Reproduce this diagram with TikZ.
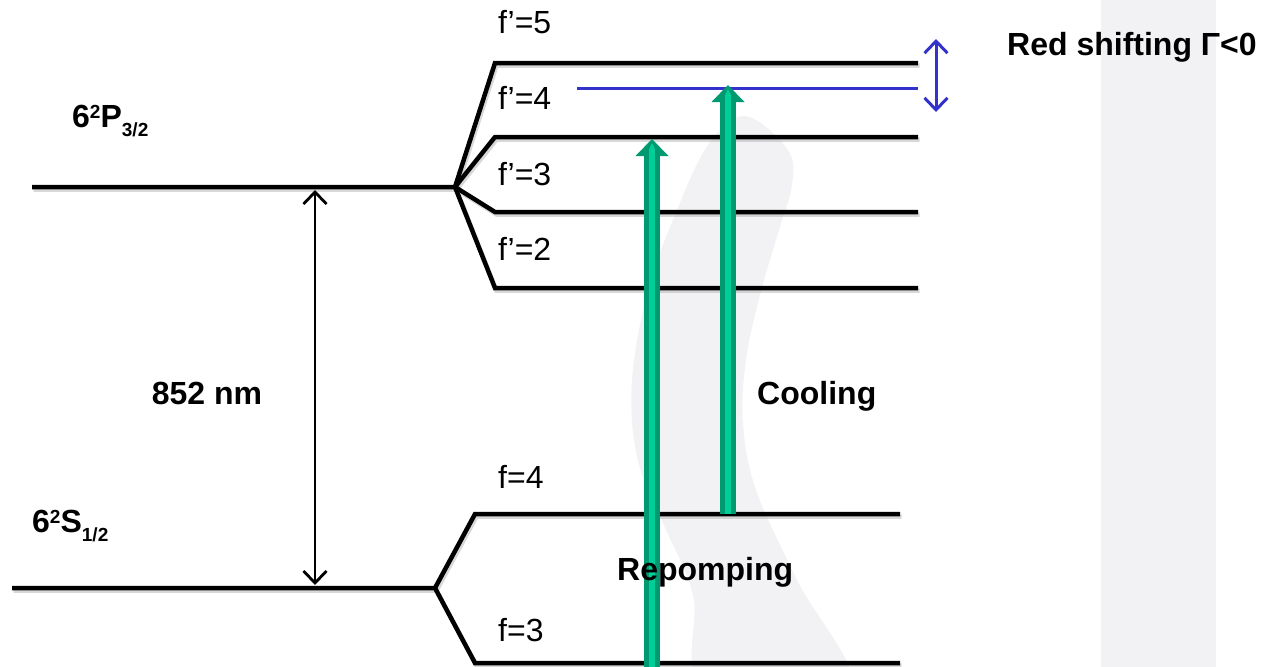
\documentclass[tikz,border=0pt]{standalone}
\usepackage{fontspec}
\setmainfont{Liberation Sans}
\usetikzlibrary{arrows.meta,calc}
\definecolor{gdark}{RGB}{0,153,112}
\definecolor{glight}{RGB}{0,206,152}
\definecolor{bluel}{RGB}{51,51,204}
\definecolor{bgray}{RGB}{242,242,245}
\newcommand\mysup[1]{\raisebox{9pt}{\fontsize{19}{19}\selectfont #1}}
\newcommand\mysub[1]{\raisebox{-9pt}{\fontsize{19}{19}\selectfont #1}}
\newcommand\greenarrow[2]{%
  \fill[gdark] ($(#1)+(-8,0)$) rectangle ($(#2)+(8,16)$);
  \fill[gdark] ($(#2)+(-16.5,17)$) -- (#2) -- ($(#2)+(16.5,17)$) -- cycle;
  \fill[glight] ($(#1)+(-2.8,0)$) rectangle ($(#2)+(2.8,10)$);
  \fill[glight] ($(#2)+(-2.8,10)$) -- ($(#2)+(0,4)$) -- ($(#2)+(2.8,10)$) -- cycle;
}
\begin{document}
\begin{tikzpicture}[x=1pt,y=-1pt,
  lvl/.style={line width=4.5pt, line join=miter},
  shade/.style={line width=4.5pt, draw=black!30, opacity=0.5, transform canvas={shift={(1.5pt,-2.5pt)}}},
  lab/.style={font=\fontsize{32}{36}\selectfont, inner sep=0pt, anchor=base west},
  blab/.style={font=\fontsize{32}{36}\selectfont\bfseries, inner sep=0pt, anchor=base west},
  barb/.tip={Straight Barb[length=12pt,width=23pt]}
]
\useasboundingbox (0,0) rectangle (1262,667);
% background
\fill[bgray] (1101,0) rectangle (1216,667);
\begin{scope}
\clip (0,0) rectangle (1262,667);
\fill[bgray] plot[smooth cycle, tension=0.6] coordinates {(745,116) (788,150) (792,185) (779,230) (760,295) (746,360) (743,423) (756,490) (797,580) (850,690) (705,690) (693,595) (663,523) (637,457) (632,380) (648,290) (675,215) (708,145)};
\end{scope}
% coordinates
\coordinate (Pa) at (32,187); \coordinate (Pj) at (455,187);
\coordinate (L5a) at (495,63);  \coordinate (L5b) at (918,63);
\coordinate (L4a) at (495,137); \coordinate (L4b) at (918,137);
\coordinate (L3a) at (495,212); \coordinate (L3b) at (918,212);
\coordinate (L2a) at (495,288); \coordinate (L2b) at (918,288);
\coordinate (Sa) at (12,588); \coordinate (Sj) at (435,588);
\coordinate (F4a) at (475,514); \coordinate (F4b) at (900,514);
\coordinate (F3a) at (475,663); \coordinate (F3b) at (900,663);
\coordinate (Ba) at (577,88); \coordinate (Bb) at (918,88);
% shadows
\draw[shade] (Pa) -- (Pj) -- (L5a) -- (L5b);
\draw[shade] (Pj) -- (L4a) -- (L4b);
\draw[shade] (Pj) -- (L3a) -- (L3b);
\draw[shade] (Pj) -- (L2a) -- (L2b);
\draw[shade] (Sa) -- (Sj) -- (F4a) -- (F4b);
\draw[shade] (Sj) -- (F3a) -- (F3b);
% levels
\draw[lvl] (Pa) -- (Pj) -- (L5a) -- (L5b);
\draw[lvl] (Pj) -- (L4a) -- (L4b);
\draw[lvl] (Pj) -- (L3a) -- (L3b);
\draw[lvl] (Pj) -- (L2a) -- (L2b);
\draw[lvl] (Sa) -- (Sj) -- (F4a) -- (F4b);
\draw[lvl] (Sj) -- (F3a) -- (F3b);
% blue detuned level
\draw[bluel, line width=3pt] (Ba) -- (Bb);
\coordinate (Rt) at (936,39); \coordinate (Rb) at (936,112);
\draw[bluel, line width=3pt, barb-barb] (Rt) -- (Rb);
% 852 nm arrow
\coordinate (At) at (315,190); \coordinate (Ab) at (315,585);
\draw[line width=2.8pt, barb-barb] (At) -- (Ab);
% labels
\node[lab] (t5) at (498,33) {f’=5};
\node[lab] (t4) at (498,109) {f’=4};
\node[lab] (t3) at (498,185) {f’=3};
\node[lab] (t2) at (498,260) {f’=2};
\node[lab] (s4) at (498,488) {f=4};
\node[lab] (s3) at (498,641) {f=3};
\node[blab] (pl) at (72,127) {6\mysup{2}P\mysub{3/2}};
\node[blab] (sl) at (32,532) {6\mysup{2}S\mysub{1/2}};
\node[blab, anchor=base] (nm) at (207,404) {852 nm};
\node[blab] (rs) at (1007,55) {Red shifting Γ<0};
% green arrows
\coordinate (Rpa) at (652,680); \coordinate (Rpt) at (652,139);
\coordinate (Coa) at (728,514); \coordinate (Cot) at (728,85);
\greenarrow{Coa}{Cot}
\greenarrow{Rpa}{Rpt}
\node[blab] (cl) at (757,404) {Cooling};
\node[blab] (rp) at (617,580) {Repomping};
\end{tikzpicture}
\end{document}
